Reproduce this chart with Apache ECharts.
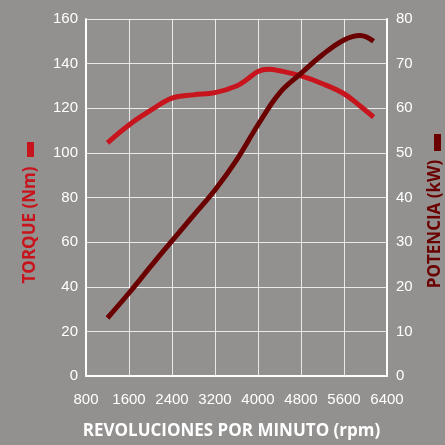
<!DOCTYPE html>
<html><head><meta charset="utf-8">
<script src="https://cdn.jsdelivr.net/npm/echarts@6/dist/echarts.min.js"></script>
<style>html,body{margin:0;padding:0;background:#939190;overflow:hidden;}#c{width:445px;height:445px;}</style>
</head><body><div id="c"></div>
<script>
const rpmTorque = [1200,1600,2000,2400,2800,3200,3600,3800,4000,4200,4400,4800,5200,5600,5900,6150];
const torqueNm  = [104.5,112.5,119,124.5,126,127,130,133,136.5,137.5,136.8,134.5,131,126.5,121,116];
const rpmPower  = [1200,1600,2000,2400,2800,3200,3600,4000,4400,4800,5200,5600,5900,6150];
const powerKw   = [13,18.6,24.5,30.3,36,41.7,48.4,56.3,63.4,67.8,72,75.3,76.3,75];
const xTicks = {min:800,max:6400,interval:800};
const yLeft = {min:0,max:160,interval:20};
const yRight = {min:0,max:80,interval:10};

const chart = echarts.init(document.getElementById('c'), null, {renderer:'canvas'});
const lblFont = {color:'#ffffff', fontSize:15, fontFamily:'Liberation Sans, Arial, sans-serif'};
chart.setOption({
  backgroundColor:'#939190',
  animation:false,
  grid:{left:86,right:58,top:19,bottom:64,containLabel:false},
  xAxis:{type:'value',min:xTicks.min,max:xTicks.max,interval:xTicks.interval,
    axisLine:{show:true,lineStyle:{color:'#ffffff',width:2}},
    axisTick:{show:false},
    axisLabel:Object.assign({margin:16,formatter:v=>String(v)},lblFont),
    splitLine:{show:true,lineStyle:{color:'rgba(255,255,255,0.8)',width:1}},
    name:'REVOLUCIONES POR MINUTO (rpm)',nameLocation:'middle',nameGap:47,
    nameTextStyle:{color:'#ffffff',fontSize:17,fontWeight:'bold',fontFamily:'Open Sans, sans-serif',padding:[0,0,0,-10]}
  },
  yAxis:[
    {type:'value',min:yLeft.min,max:yLeft.max,interval:yLeft.interval,
      axisLine:{show:true,lineStyle:{color:'#ffffff',width:2}},
      axisTick:{show:false},
      axisLabel:Object.assign({margin:8},lblFont),
      splitLine:{show:true,lineStyle:{color:'rgba(255,255,255,0.8)',width:1}}},
    {type:'value',min:yRight.min,max:yRight.max,interval:yRight.interval,position:'right',
      axisLine:{show:true,lineStyle:{color:'#ffffff',width:2}},
      axisTick:{show:false},
      axisLabel:Object.assign({margin:9},lblFont),
      splitLine:{show:false}}
  ],
  graphic:[
    {type:'text',x:22,y:225,rotation:Math.PI/2,style:{text:'TORQUE (Nm)',fill:'#c8141c',font:'bold 17px "Open Sans", sans-serif',textAlign:'center',textVerticalAlign:'top'}},
    {type:'rect',shape:{x:27,y:142,width:7,height:15},style:{fill:'#c8141c'}},
    {type:'text',x:427,y:224,rotation:Math.PI/2,style:{text:'POTENCIA (kW)',fill:'#6b0000',font:'bold 17px "Open Sans", sans-serif',textAlign:'center',textVerticalAlign:'top'}},
    {type:'rect',shape:{x:434,y:134,width:7,height:17},style:{fill:'#6b0000'}}
  ],
  series:[
    {type:'line',yAxisIndex:0,data:rpmTorque.map((r,i)=>[r,torqueNm[i]]),smooth:0.4,symbol:'none',
      lineStyle:{color:'#c8141c',width:5,cap:'butt'}},
    {type:'line',yAxisIndex:1,data:rpmPower.map((r,i)=>[r,powerKw[i]]),smooth:0.4,symbol:'none',
      lineStyle:{color:'#6b0000',width:5,cap:'butt'}}
  ]
});
</script></body></html>
